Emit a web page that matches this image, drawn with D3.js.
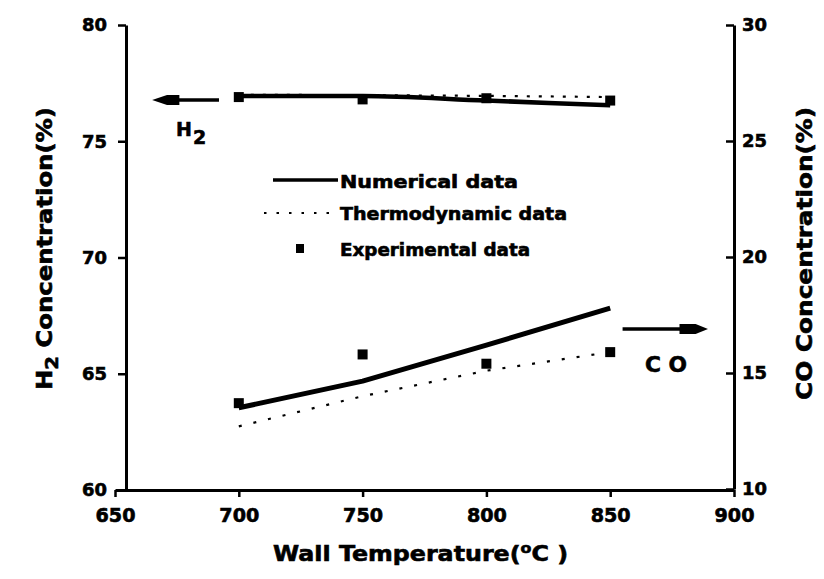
<!DOCTYPE html>
<html>
<head>
<meta charset="utf-8">
<script src="https://cdn.jsdelivr.net/npm/d3@7"></script>
<style>
  html, body { margin: 0; padding: 0; background: #fff; }
  svg { display: block; }
  text { font-family: "DejaVu Sans", "Liberation Sans", sans-serif; font-weight: bold; fill: #000; stroke: #000; stroke-width: 0.6; }
</style>
</head>
<body>
<svg id="chart" width="824" height="579"></svg>
<script>
// ---- data ----
const temps = [700, 750, 800, 850];
const h2Numerical = [76.95, 76.95, 76.75, 76.55];
const h2Thermodynamic = [77.0, 76.98, 76.95, 76.9];
const h2Experimental = [76.9, 76.8, 76.85, 76.75];
const coNumerical = [13.5, 14.65, 16.2, 17.8];
const coThermodynamic = [12.7, 14.0, 15.1, 15.9];
const coExperimental = [13.7, 15.8, 15.4, 15.9];
const xTicks = [650, 700, 750, 800, 850, 900];
const h2Ticks = [60, 65, 70, 75, 80];
const coTicks = [10, 15, 20, 25, 30];
const legendLabels = ["Numerical data", "Thermodynamic data", "Experimental data"];

const svg = d3.select("#chart");

const x = d3.scaleLinear().domain([650, 900]).range([115, 734]);
const yL = d3.scaleLinear().domain([60, 80]).range([490, 25]);
const yR = d3.scaleLinear().domain([10, 30]).range([489, 25]);

// ---- axes ----
const xAxis = svg.append("g").attr("transform", "translate(0,490)")
  .call(d3.axisBottom(x).tickValues(xTicks).tickSize(7).tickSizeOuter(0).tickPadding(12));
const lAxis = svg.append("g").attr("transform", "translate(126,0)")
  .call(d3.axisLeft(yL).tickValues(h2Ticks).tickSize(8).tickSizeOuter(0).tickPadding(11));
const rAxis = svg.append("g").attr("transform", "translate(734,0)")
  .call(d3.axisRight(yR).tickValues(coTicks).tickSize(-8).tickSizeOuter(0).tickPadding(8));

[xAxis, lAxis, rAxis].forEach(g => {
  g.select(".domain").attr("stroke", "#000").attr("stroke-width", 3);
  g.selectAll(".tick line").attr("stroke", "#000").attr("stroke-width", 2.5);
  g.selectAll(".tick text").attr("font-family", "DejaVu Sans, sans-serif")
    .attr("font-weight", "bold").attr("fill", "#000");
});
xAxis.selectAll(".tick text").attr("font-size", 19).attr("textLength", 40).attr("lengthAdjust", "spacingAndGlyphs");
lAxis.selectAll(".tick text").attr("font-size", 18).attr("textLength", 25).attr("lengthAdjust", "spacingAndGlyphs");
rAxis.selectAll(".tick text").attr("font-size", 18).attr("textLength", 25).attr("lengthAdjust", "spacingAndGlyphs");

// ---- lines ----
const lineL = d3.line().x((d, i) => x(temps[i])).y(d => yL(d)).curve(d3.curveMonotoneX);
const lineR = d3.line().x((d, i) => x(temps[i])).y(d => yR(d));

svg.append("path").datum(h2Thermodynamic).attr("d", lineL)
  .attr("fill", "none").attr("stroke", "#000").attr("stroke-width", 2.2).attr("stroke-dasharray", "3,9");
svg.append("path").datum(h2Numerical).attr("d", lineL)
  .attr("fill", "none").attr("stroke", "#000").attr("stroke-width", 4.5);
svg.append("path").datum(coThermodynamic).attr("d", lineR)
  .attr("fill", "none").attr("stroke", "#000").attr("stroke-width", 2.2).attr("stroke-dasharray", "3,12");
svg.append("path").datum(coNumerical).attr("d", lineR)
  .attr("fill", "none").attr("stroke", "#000").attr("stroke-width", 5).attr("stroke-linejoin", "round");

// ---- markers ----
const ms = 10;
svg.append("g").selectAll("rect").data(h2Experimental).join("rect")
  .attr("x", (d, i) => x(temps[i]) - ms / 2).attr("y", d => yL(d) - ms / 2)
  .attr("width", ms).attr("height", ms).attr("fill", "#000");
svg.append("g").selectAll("rect").data(coExperimental).join("rect")
  .attr("x", (d, i) => x(temps[i]) - ms / 2).attr("y", d => yR(d) - ms / 2)
  .attr("width", ms).attr("height", ms).attr("fill", "#000");

// ---- arrows ----
// H2 arrow pointing left
svg.append("line").attr("x1", x(692)).attr("x2", x(670)).attr("y1", 100).attr("y2", 100)
  .attr("stroke", "#000").attr("stroke-width", 3.5);
svg.append("path").attr("d", `M${x(665)},100 L${x(671)},95 L${x(676)},95 L${x(676)},105 L${x(671)},105 Z`)
  .attr("fill", "#000");
// CO arrow pointing right
svg.append("line").attr("x1", x(855)).attr("x2", x(880)).attr("y1", 329).attr("y2", 329)
  .attr("stroke", "#000").attr("stroke-width", 3.5);
svg.append("path").attr("d", `M${x(889.5)},329 L${x(884.5)},324 L${x(878)},324 L${x(878)},334 L${x(884.5)},334 Z`)
  .attr("fill", "#000");

// H2 / CO labels
const h2Lab = svg.append("text").attr("x", 176).attr("y", 136).attr("font-size", 19);
h2Lab.append("tspan").text("H");
h2Lab.append("tspan").attr("dx", 1).attr("dy", 8).text("2");
svg.append("text").attr("x", 645).attr("y", 372).attr("font-size", 21)
  .attr("textLength", 42).attr("lengthAdjust", "spacingAndGlyphs").text("C O");

// ---- legend ----
svg.append("line").attr("x1", 273).attr("x2", 338).attr("y1", 180).attr("y2", 180)
  .attr("stroke", "#000").attr("stroke-width", 3.5);
svg.append("line").attr("x1", 264).attr("x2", 338).attr("y1", 213).attr("y2", 213)
  .attr("stroke", "#000").attr("stroke-width", 1.8).attr("stroke-dasharray", "2.5,10");
svg.append("rect").attr("x", 296).attr("y", 244).attr("width", 8).attr("height", 9).attr("fill", "#000");
const legY = [188, 220, 256];
const legW = [178, 227, 190];
legendLabels.forEach((t, i) => {
  svg.append("text").attr("x", 340).attr("y", legY[i]).attr("font-size", 17)
    .attr("textLength", legW[i]).attr("lengthAdjust", "spacingAndGlyphs").text(t);
});

// ---- axis titles ----
const xt = svg.append("text").attr("x", 273).attr("y", 561).attr("font-size", 21)
  .attr("textLength", 295).attr("lengthAdjust", "spacingAndGlyphs");
xt.append("tspan").text("Wall Temperature(");
xt.append("tspan").attr("dy", -8).attr("font-size", 14).text("o");
xt.append("tspan").attr("dy", 8).text("C )");

const lt = svg.append("text").attr("transform", "translate(52,390) rotate(-90)")
  .attr("font-size", 21).attr("textLength", 283).attr("lengthAdjust", "spacingAndGlyphs");
lt.append("tspan").text("H");
lt.append("tspan").attr("dy", 6).attr("font-size", 17).text("2");
lt.append("tspan").attr("dy", -6).text(" Concentration(%)");

svg.append("text").attr("transform", "translate(812,400) rotate(-90)")
  .attr("font-size", 21).attr("textLength", 293).attr("lengthAdjust", "spacingAndGlyphs")
  .text("CO Concentration(%)");
</script>
</body>
</html>
